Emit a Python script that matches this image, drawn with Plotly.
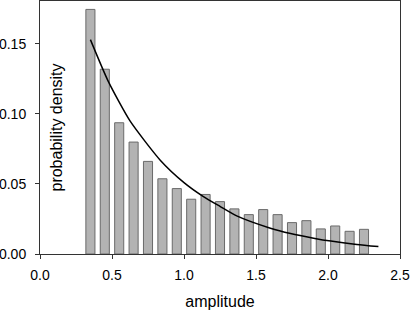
import plotly.graph_objects as go

# Histogram bins (centres) and densities
bin_centers = [0.35, 0.45, 0.55, 0.65, 0.75, 0.85, 0.95, 1.05, 1.15, 1.25,
               1.35, 1.45, 1.55, 1.65, 1.75, 1.85, 1.95, 2.05, 2.15, 2.25]
density = [0.1746, 0.1319, 0.0937, 0.0799, 0.0661, 0.0537, 0.0467, 0.0391, 0.0425, 0.0374,
           0.0322, 0.0281, 0.0317, 0.0281, 0.0224, 0.0238, 0.0179, 0.0200, 0.0162, 0.0176]

# Fitted curve, points
curve_x = [0.35, 0.475, 0.625, 0.835, 1.0, 1.135, 1.25, 1.37, 1.6, 1.74, 1.9, 2.02, 2.2, 2.35]
curve_y = [0.153, 0.123, 0.095, 0.067, 0.051, 0.041, 0.034, 0.027, 0.0184, 0.0146, 0.0113, 0.0092, 0.0068, 0.0053]

x_ticks = [0.0, 0.5, 1.0, 1.5, 2.0, 2.5]
x_tick_labels = ["0.0", "0.5", "1.0", "1.5", "2.0", "2.5"]
y_ticks = [0.0, 0.05, 0.10, 0.15]
y_tick_labels = ["0.00", "0.05", "0.10", "0.15"]

fig = go.Figure()
fig.add_trace(go.Bar(
    x=bin_centers, y=density, width=0.063,
    marker=dict(color="#b3b3b3", line=dict(color="#6a6a6a", width=1)),
    showlegend=False, hoverinfo="skip",
))
fig.add_trace(go.Scatter(
    x=curve_x, y=curve_y, mode="lines",
    line=dict(color="black", width=1.5, shape="spline", smoothing=0.6),
    showlegend=False, hoverinfo="skip",
))

font = dict(family="Liberation Sans, Arial, sans-serif", size=14, color="black")

fig.update_layout(
    width=410, height=310,
    margin=dict(l=40, r=10, t=1, b=56, pad=0, autoexpand=False),
    paper_bgcolor="white", plot_bgcolor="white",
    font=font,
    xaxis=dict(
        range=[0, 2.5], tickvals=x_ticks, ticktext=x_tick_labels,
        showgrid=False, zeroline=False,
        showline=True, linecolor="#333333", linewidth=1, mirror=True,
        ticks="outside", ticklen=4, tickcolor="#333333",
        ticklabelstandoff=4,
        title=dict(text="amplitude", font=dict(size=16), standoff=14),
        automargin=False,
        fixedrange=True,
    ),
    yaxis=dict(
        range=[0, 0.1806], tickvals=y_ticks, ticktext=y_tick_labels,
        showgrid=False, zeroline=False,
        showline=True, linecolor="#333333", linewidth=1, mirror=True,
        ticks="outside", ticklen=4, tickcolor="#333333",
        ticklabelstandoff=6,
        automargin=False,
        fixedrange=True,
    ),
    annotations=[dict(
        text="probability density", textangle=-90,
        xref="paper", yref="paper", x=(56 - 40) / 360, y=0.5,
        xanchor="center", yanchor="middle", showarrow=False,
        font=dict(size=16),
    )],
    bargap=0,
)

fig.write_html("out.html", config={"displayModeBar": False, "staticPlot": True},
               post_script="document.body.style.margin='0';")
